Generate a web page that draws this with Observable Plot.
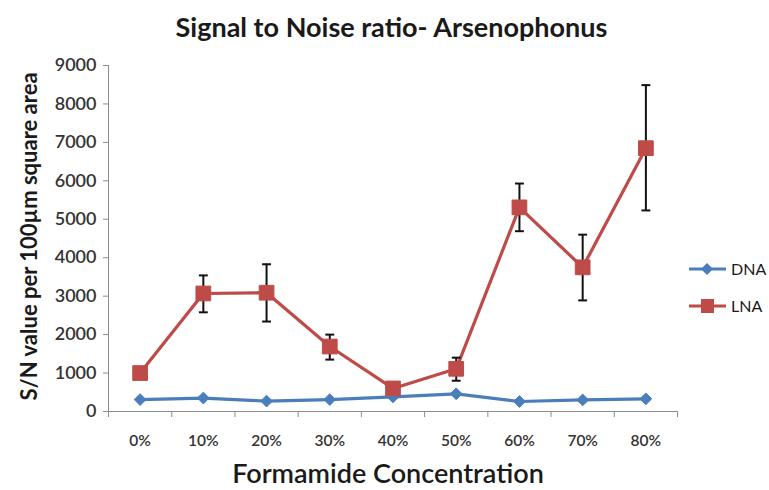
<!DOCTYPE html>
<html>
<head>
<meta charset="utf-8">
<script src="https://cdn.jsdelivr.net/npm/d3@7"></script>
<script src="https://cdn.jsdelivr.net/npm/@observablehq/plot@0.6"></script>
<style>
  html, body { margin: 0; padding: 0; background: #fff; }
  #wrap { position: relative; width: 769px; height: 490px; overflow: hidden; font-family: Lato, "Open Sans", sans-serif; }
  #title { position: absolute; top: 10px; left: 0; width: 769px; padding-left: 14px; box-sizing: border-box; text-align: center; font-weight: 700; font-size: 27px; line-height: 34px; color: #1a1a1a; }
  #chart { position: absolute; top: 50px; left: 0; }
  #legend { position: absolute; left: 688px; top: 250px; font-size: 16px; color: #1a1a1a; }
  .lg { display: flex; align-items: center; height: 37px; }
  .lg svg { margin-right: 3px; }
</style>
</head>
<body>
<div id="wrap">
  <div id="title">Signal to Noise ratio- Arsenophonus</div>
  <div id="chart"></div>
  <div id="legend"></div>
</div>
<script>
const categories = ["0%", "10%", "20%", "30%", "40%", "50%", "60%", "70%", "80%"];
const dnaValues = [310, 350, 270, 310, 380, 460, 260, 300, 330];
const lnaValues = [1000, 3070, 3090, 1690, 600, 1110, 5310, 3750, 6850];
const lnaErrLow = [null, 2580, 2340, 1350, null, 800, 4690, 2890, 5230];
const lnaErrHigh = [null, 3540, 3830, 2000, null, 1400, 5930, 4600, 8490];
const yTicks = [0, 1000, 2000, 3000, 4000, 5000, 6000, 7000, 8000, 9000];
const seriesNames = ["DNA", "LNA"];
const seriesColors = ["#4a7ebb", "#be4b48"];

const dna = categories.map((c, i) => ({i, c, v: dnaValues[i]}));
const lna = categories.map((c, i) => ({i, c, v: lnaValues[i]}));
const errs = categories.map((c, i) => ({i, lo: lnaErrLow[i], hi: lnaErrHigh[i]})).filter(d => d.lo != null);

const capSymbol = {
  draw(context, size) {
    const w = Math.sqrt(size) / 2;
    context.moveTo(-w, 0);
    context.lineTo(w, 0);
  }
};

const axisColor = "#8c8c8c";
const textColor = "#333";

const chart = Plot.plot({
  width: 769,
  height: 440,
  marginLeft: 108,
  marginRight: 92,
  marginTop: 15,
  marginBottom: 79,
  style: {fontFamily: "Lato, 'Open Sans', sans-serif", background: "transparent", overflow: "visible"},
  x: {type: "linear", domain: [-0.5, categories.length - 0.5], axis: null},
  y: {domain: [0, 9000], axis: null},
  marks: [
    Plot.ruleX([-0.5], {y1: 0, y2: 9000, stroke: axisColor, strokeWidth: 1}),
    Plot.ruleY([0], {x1: -0.5, x2: categories.length - 0.5, stroke: axisColor, strokeWidth: 1}),
    Plot.axisY({ticks: yTicks, tickSize: 5, tickPadding: 7, tickFormat: d => String(d), stroke: axisColor, fill: textColor, fontSize: 18, fontWeight: 600, label: null}),
    Plot.axisX({ticks: d3.range(-0.5, categories.length, 1), tickSize: 6, tickFormat: () => "", stroke: axisColor, label: null}),
    Plot.axisX({ticks: d3.range(0, categories.length), tickSize: 0, tickPadding: 23, tickFormat: i => categories[i], fill: textColor, fontSize: 15.5, fontWeight: 600, label: null}),
    Plot.text(["S/N value per 100µm square area"], {frameAnchor: "left", textAnchor: "middle", rotate: -90, dx: -79, dy: -2, fontSize: 22, fontWeight: 700, fill: "#1a1a1a"}),
    Plot.text(["Formamide Concentration"], {frameAnchor: "bottom", dy: 71, dx: -5, fontSize: 27, fontWeight: 600, fill: "#1a1a1a"}),
    Plot.line(dna, {x: "i", y: "v", stroke: seriesColors[0], strokeWidth: 3.2}),
    Plot.dot(dna, {x: "i", y: "v", symbol: "diamond2", r: 5.3, fill: seriesColors[0], stroke: seriesColors[0], strokeWidth: 1}),
    Plot.line(lna, {x: "i", y: "v", stroke: seriesColors[1], strokeWidth: 3.2}),
    Plot.ruleX(errs, {x: "i", y1: "lo", y2: "hi", stroke: "#111", strokeWidth: 2}),
    Plot.dot(errs, {x: "i", y: "lo", symbol: capSymbol, r: 5, stroke: "#111", strokeWidth: 2}),
    Plot.dot(errs, {x: "i", y: "hi", symbol: capSymbol, r: 5, stroke: "#111", strokeWidth: 2}),
    Plot.dot(lna, {x: "i", y: "v", symbol: "square", r: 8.3, fill: seriesColors[1], stroke: seriesColors[1], strokeWidth: 1})
  ]
});
document.getElementById("chart").appendChild(chart);

const legend = document.getElementById("legend");
seriesNames.forEach((name, k) => {
  const row = document.createElement("div");
  row.className = "lg";
  const marker = k === 0
    ? `<path d="M19 4 L25 10 L19 16 L13 10 Z" fill="${seriesColors[k]}"/>`
    : `<rect x="13" y="3" width="13" height="14" fill="${seriesColors[k]}"/>`;
  row.innerHTML = `<svg width="40" height="20"><line x1="1" y1="10" x2="38" y2="10" stroke="${seriesColors[k]}" stroke-width="3"/>${marker}</svg><span>${name}</span>`;
  legend.appendChild(row);
});
</script>
</body>
</html>
